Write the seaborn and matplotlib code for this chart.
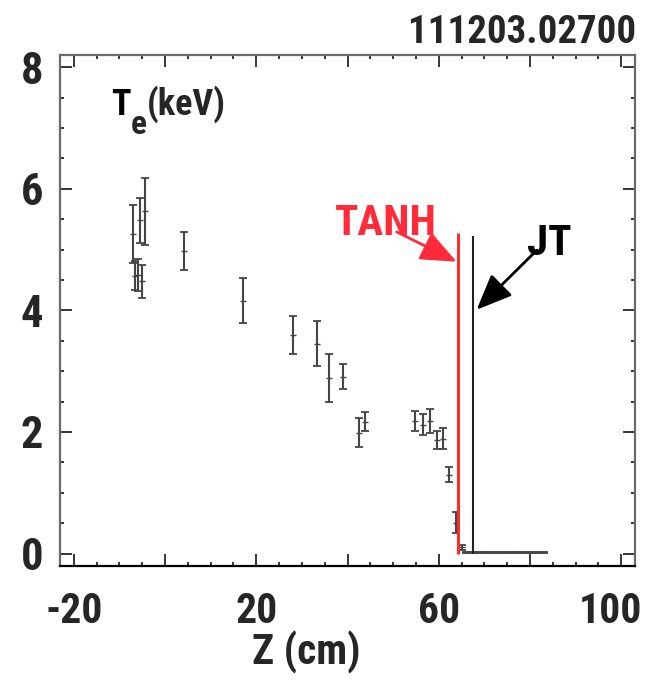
import matplotlib
matplotlib.use("Agg")
import matplotlib.pyplot as plt
from matplotlib.ticker import MultipleLocator
from matplotlib.transforms import ScaledTranslation
import seaborn as sns
import pandas as pd

# Thomson-scattering electron temperature profile, shot 111203, t = 0.02700
z_cm = [-7.0, -6.6, -6.0, -5.5, -5.0, -4.4, 4.2, 17.2, 28.0, 33.3, 35.9,
        39.1, 42.6, 43.8, 54.9, 56.5, 58.1, 59.6, 60.9, 62.3, 63.8, 65.0,
        66.0, 67.0, 68.0, 69.0, 70.0, 71.0, 72.0, 73.0, 74.0, 75.0, 76.0,
        77.0, 78.0, 79.0, 80.0, 81.0, 82.0, 83.0]
te_kev = [5.26, 4.57, 4.58, 5.48, 4.48, 5.63, 4.98, 4.16, 3.60, 3.45, 2.89,
          2.91, 1.99, 2.17, 2.18, 2.12, 2.18, 1.87, 1.89, 1.30, 0.51, 0.10,
          0.02, 0.02, 0.02, 0.02, 0.02, 0.02, 0.02, 0.02, 0.02, 0.02, 0.02,
          0.02, 0.02, 0.02, 0.02, 0.02, 0.02, 0.02]
te_err = [0.48, 0.24, 0.26, 0.37, 0.27, 0.55, 0.31, 0.37, 0.31, 0.37, 0.40,
          0.20, 0.24, 0.15, 0.17, 0.17, 0.19, 0.15, 0.17, 0.12, 0.17, 0.04,
          0.01, 0.01, 0.01, 0.01, 0.01, 0.01, 0.01, 0.01, 0.01, 0.01, 0.01,
          0.01, 0.01, 0.01, 0.01, 0.01, 0.01, 0.01]

# Separatrix positions from the two fits
tanh_z, tanh_top = 64.3, 5.27
jt_z, jt_top = 67.4, 5.22

x_ticks = [-20, 0, 20, 40, 60, 80, 100]
x_labels = ["-20", "", "20", "", "60", "", "100"]
y_ticks = [0, 2, 4, 6, 8]

shot_label = "111203.02700"

df = pd.DataFrame({"z": z_cm, "te": te_kev, "err": te_err})

sns.set_theme(style="ticks")
FONT = ["Liberation Sans Narrow", "Roboto Condensed", "Liberation Sans",
        "DejaVu Sans"]
plt.rcParams["font.family"] = FONT
plt.rcParams["font.weight"] = "bold"

fig = plt.figure(figsize=(6.49, 6.90), dpi=100)
ax = fig.add_axes([60 / 649, (690 - 565.7) / 690, 575 / 649, 510.7 / 690])

ax.errorbar(df["z"], df["te"], yerr=df["err"], fmt="none",
            ecolor="#454545", elinewidth=1.5, capsize=3.0, capthick=1.3,
            zorder=3)
sns.scatterplot(data=df, x="z", y="te", ax=ax, marker="_", s=14,
                color="#454545", linewidth=1.0, legend=False, zorder=3)

ax.vlines(tanh_z, 0, tanh_top, color="#ff2a2a", lw=2.2, zorder=4)
ax.vlines(jt_z, 0, jt_top, color="#202020", lw=1.5, zorder=4)

red = "#ff2a3a"
arrow_style = "-|>,head_length=1.0,head_width=0.42"
ax.text(37.3, 5.24, "TANH", color=red, fontsize=31, fontweight="bold",
        ha="left", va="baseline")
ax.annotate("", xy=(63.9, 4.80), xytext=(50.8, 5.29),
            arrowprops=dict(arrowstyle=arrow_style, mutation_scale=22,
                            color=red, lw=2.0, shrinkA=0, shrinkB=0))
ax.text(79.3, 4.91, "JT", color="black", fontsize=31, fontweight="bold",
        ha="left", va="baseline")
ax.annotate("", xy=(68.3, 4.01), xytext=(81.5, 4.99),
            arrowprops=dict(arrowstyle=arrow_style, mutation_scale=22,
                            color="black", lw=2.0, shrinkA=0, shrinkB=0))

# Axis title: T with a lowered, full-size "e", then (keV)
t_main = ax.text(-11.8, 7.21, "T", fontsize=26, fontweight="bold",
                 ha="left", va="baseline", color="black")
t_sub = ax.annotate("e", xy=(1.0, 0.0), xycoords=t_main, xytext=(0, -13),
                    textcoords="offset points", fontsize=24,
                    fontweight="bold", ha="left", va="bottom")
ax.annotate("(keV)", xy=(1.0, 0.0), xycoords=(t_sub, t_main),
            fontsize=26, fontweight="bold", ha="left", va="bottom")

ax.set_xlim(-23, 103)
ax.set_ylim(-0.2, 8.2)

ax.set_xticks(x_ticks)
ax.set_xticklabels(x_labels)
ax.xaxis.set_minor_locator(MultipleLocator(5))
ax.set_yticks(y_ticks)
ax.set_yticklabels([str(v) for v in y_ticks])
ax.yaxis.set_minor_locator(MultipleLocator(0.5))

ax.tick_params(which="both", direction="in", top=True, right=True,
               color="black", width=1.1)
ax.tick_params(which="major", length=8.5)
ax.tick_params(which="minor", length=3.2)
ax.tick_params(axis="x", which="major", pad=18, labelsize=30)
ax.tick_params(axis="y", which="major", pad=12, labelsize=32)
for lab in ax.get_xticklabels() + ax.get_yticklabels():
    lab.set_fontweight("bold")

# keep the last x label inside the figure edge
last = ax.xaxis.get_major_ticks()[-1].label1
last.set_transform(last.get_transform()
                   + ScaledTranslation(-11 / 100, 0, fig.dpi_scale_trans))

for side in ["top", "left", "right"]:
    ax.spines[side].set_color("#6a6a6a")
    ax.spines[side].set_linewidth(1.6)
ax.spines["bottom"].set_color("black")
ax.spines["bottom"].set_linewidth(1.6)

ax.set_xlabel("Z (cm)", fontsize=30, fontweight="bold")
ax.xaxis.set_label_coords(0.428, -0.128)
ax.set_ylabel("")

fig.text(636 / 649, 1 - 43 / 690, shot_label, fontsize=28, fontweight="bold",
         ha="right", va="baseline")

fig.savefig("out.png", dpi=100)
